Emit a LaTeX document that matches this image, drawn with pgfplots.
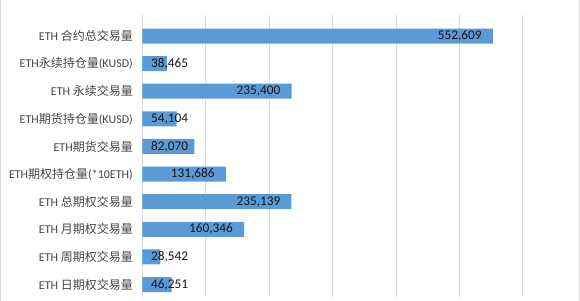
\documentclass[border=0pt]{standalone}
\usepackage{fontspec}
\usepackage{pgfplots}
\usepackage{pgfplotstable}
\pgfplotsset{compat=1.18}
\setmainfont{Carlito}
\newfontfamily\cjk{Noto Sans CJK SC}
\newfontfamily\carlito{Carlito}
\definecolor{barblue}{RGB}{91,155,213}
\definecolor{gridgray}{RGB}{217,217,217}
\definecolor{labgray}{RGB}{70,70,70}
\definecolor{numcol}{RGB}{20,20,30}

\pgfplotstableread{
i v
0 552609
1 38465
2 235400
3 54104
4 82070
5 131686
6 235139
7 160346
8 28542
9 46251
}\datatab

\begin{document}
\begin{tikzpicture}
\useasboundingbox (0,0) rectangle (580bp,301bp);
\draw[gridgray, line width=0.8bp] (0.6bp,0) -- (0.6bp,301bp);
\draw[gridgray, line width=0.8bp] (579.4bp,0) -- (579.4bp,301bp);
\begin{axis}[
  at={(142.4bp,4.3bp)}, anchor=south west,
  scale only axis, width=437.6bp, height=281.4bp,
  xmin=0, xmax=690200, ymin=-0.75, ymax=9.44, y dir=reverse,
  axis line style={draw=none},
  tick style={draw=none},
  major tick length=0pt,
  xmajorgrids, grid style={gridgray, line width=0.8bp},
  xtick={0,100000,200000,300000,400000,500000,600000},
  xticklabels={},
  ytick={0,1,2,3,4,5,6,7,8,9},
  yticklabels={ETH {\cjk 合约总交易量}, ETH{\cjk 永续持仓量}(KUSD), ETH {\cjk 永续交易量}, ETH{\cjk 期货持仓量}(KUSD), ETH{\cjk 期货交易量}, ETH{\cjk 期权持仓量}(*10ETH), ETH {\cjk 总期权交易量}, ETH {\cjk 月期权交易量}, ETH {\cjk 周期权交易量}, ETH {\cjk 日期权交易量}},
  yticklabel style={font=\fontsize{12bp}{14bp}\selectfont, text=labgray, inner sep=0pt, xshift=-9.4bp},
  clip=false,
]
\addplot[xbar, bar width=15bp, fill=barblue, draw=none] table[x=v, y=i] {\datatab};
\addplot[draw=none, mark=none, point meta=explicit,
  nodes near coords={\pgfmathprintnumber[assume math mode=true, fixed, precision=0, 1000 sep={,}]{\pgfplotspointmeta}},
  nodes near coords style={anchor=east, xshift=-11bp, inner sep=0pt, text=numcol, font=\carlito\fontsize{13.3bp}{16bp}\selectfont}]
  table[x expr={max(\thisrow{v},89750)}, y=i, meta=v] {\datatab};
\end{axis}
\end{tikzpicture}
\end{document}
